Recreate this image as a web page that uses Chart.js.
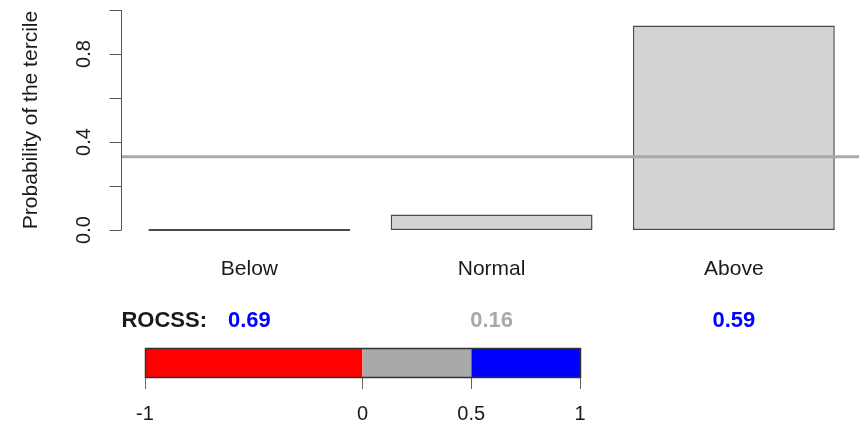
<!DOCTYPE html>
<html>
<head>
<meta charset="utf-8">
<script src="https://cdn.jsdelivr.net/npm/chart.js@4.4.1/dist/chart.umd.min.js"></script>
<style>
  html, body { margin: 0; padding: 0; background: #fff; overflow: hidden; }
  #wrap { position: relative; width: 859px; height: 430px; }
  #mainChart { position: absolute; left: 0; top: 0; }
  #barChart { position: absolute; left: 0; top: 340px; }
</style>
</head>
<body>
<div id="wrap">
  <canvas id="mainChart" width="859" height="430"></canvas>
  <canvas id="barChart" width="859" height="90"></canvas>
</div>
<script>
const categories = ['Below', 'Normal', 'Above'];
const probabilities = [0, 0.07, 0.93];
const climatology = 1 / 3;
const rocss = [0.69, 0.16, 0.59];
const yTicks = [0, 0.2, 0.4, 0.6, 0.8, 1];
const yTickLabels = ['0.0', '', '0.4', '', '0.8', ''];
const colorBreaks = [-1, 0, 0.5, 1];
const colorBarColors = ['#ff0000', '#a9a9a9', '#0000ff'];
const colorBarLabels = ['-1', '0', '0.5', '1'];

// R barplot layout: width 1, space 0.2, 4% axis extension
const barCenters = categories.map((c, i) => 0.7 + i * 1.2);
const X_MIN = 0.064, X_MAX = 3.72;
const FONT = '"Liberation Sans", Arial, Helvetica, sans-serif';
const TEXT = '#1a1a1a';

function rocssColor(v) {
  for (let i = 0; i < colorBarColors.length; i++) {
    if (v >= colorBreaks[i] && v <= colorBreaks[i + 1]) return colorBarColors[i];
  }
  return TEXT;
}

const axisDecor = {
  id: 'axisDecor',
  afterDraw(chart) {
    const { ctx, chartArea, scales } = chart;
    const xs = scales.x, ys = scales.y;
    const left = Math.round(chartArea.left) + 0.5;
    ctx.save();
    ctx.strokeStyle = '#555';
    ctx.lineWidth = 1;
    ctx.beginPath();
    ctx.moveTo(left, ys.getPixelForValue(yTicks[0]));
    ctx.lineTo(left, ys.getPixelForValue(yTicks[yTicks.length - 1]));
    yTicks.forEach(t => {
      const y = Math.round(ys.getPixelForValue(t)) + 0.5;
      ctx.moveTo(left - 12, y);
      ctx.lineTo(left, y);
    });
    ctx.stroke();

    ctx.fillStyle = TEXT;
    ctx.font = '20px ' + FONT;
    ctx.textAlign = 'center';
    ctx.textBaseline = 'middle';
    yTicks.forEach((t, i) => {
      if (!yTickLabels[i]) return;
      ctx.save();
      ctx.translate(84, ys.getPixelForValue(t));
      ctx.rotate(-Math.PI / 2);
      ctx.fillText(yTickLabels[i], 0, 0);
      ctx.restore();
    });
    ctx.font = '21px ' + FONT;
    ctx.save();
    ctx.translate(31, (chartArea.top + chartArea.bottom) / 2);
    ctx.rotate(-Math.PI / 2);
    ctx.fillText('Probability of the tercile', 0, 0);
    ctx.restore();

    categories.forEach((c, i) => {
      ctx.fillText(c, xs.getPixelForValue(barCenters[i]), 269);
    });

    ctx.font = 'bold 22px ' + FONT;
    ctx.textAlign = 'right';
    ctx.fillText('ROCSS:', 207, 321);
    ctx.textAlign = 'center';
    rocss.forEach((v, i) => {
      ctx.fillStyle = rocssColor(v);
      ctx.fillText(v.toFixed(2), xs.getPixelForValue(barCenters[i]), 321);
    });
    ctx.restore();
  }
};

new Chart(document.getElementById('mainChart').getContext('2d'), {
  type: 'bar',
  data: {
    datasets: [
      {
        type: 'line',
        data: [{ x: X_MIN, y: climatology }, { x: X_MAX, y: climatology }],
        borderColor: '#a9a9a9',
        borderWidth: 3,
        pointRadius: 0,
        order: 1
      },
      {
        type: 'bar',
        data: probabilities.map((p, i) => ({ x: barCenters[i], y: p })),
        backgroundColor: '#d3d3d3',
        borderColor: '#4a4a4a',
        borderWidth: 1.5,
        borderSkipped: false,
        categoryPercentage: 1,
        barPercentage: 1 / 1.2,
        minBarLength: 2,
        order: 2
      }
    ]
  },
  options: {
    responsive: false,
    animation: false,
    layout: { padding: { left: 121, right: 0, top: 1.2, bottom: 191.2 } },
    plugins: { legend: { display: false }, tooltip: { enabled: false } },
    scales: {
      x: {
        type: 'linear', display: false, offset: false, min: X_MIN, max: X_MAX,
        afterBuildTicks: s => { s.ticks = barCenters.map(v => ({ value: v })); }
      },
      y: { display: false, min: -0.04, max: 1.04 }
    }
  },
  plugins: [axisDecor]
});

const barOutline = {
  id: 'barOutline',
  afterDatasetsDraw(chart) {
    const { ctx, chartArea } = chart;
    ctx.save();
    ctx.strokeStyle = '#333';
    ctx.lineWidth = 1.5;
    ctx.strokeRect(Math.round(chartArea.left) + 0.5, Math.round(chartArea.top) + 0.5,
      Math.round(chartArea.right - chartArea.left), Math.round(chartArea.bottom - chartArea.top));
    ctx.restore();
  }
};

new Chart(document.getElementById('barChart').getContext('2d'), {
  type: 'bar',
  data: {
    labels: ['ROCSS'],
    datasets: colorBarColors.map((c, i) => ({
      data: [[colorBreaks[i], colorBreaks[i + 1]]],
      backgroundColor: c,
      borderWidth: 0,
      categoryPercentage: 1,
      barPercentage: 1
    }))
  },
  options: {
    indexAxis: 'y',
    responsive: false,
    animation: false,
    layout: { padding: { left: 145, right: 279, top: 8, bottom: 0 } },
    plugins: { legend: { display: false }, tooltip: { enabled: false } },
    scales: {
      y: { display: false, stacked: true },
      x: {
        type: 'linear', min: -1, max: 1, stacked: false,
        afterBuildTicks: s => { s.ticks = colorBreaks.map(v => ({ value: v })); },
        afterFit: s => { s.height = 53; },
        ticks: {
          callback: (v, i) => colorBarLabels[i],
          autoSkip: false, maxRotation: 0, padding: 13,
          color: TEXT, font: { family: FONT, size: 20 }
        },
        grid: { drawOnChartArea: false, tickLength: 12, color: '#666' },
        border: { display: false }
      }
    }
  },
  plugins: [barOutline]
});
</script>
</body>
</html>
